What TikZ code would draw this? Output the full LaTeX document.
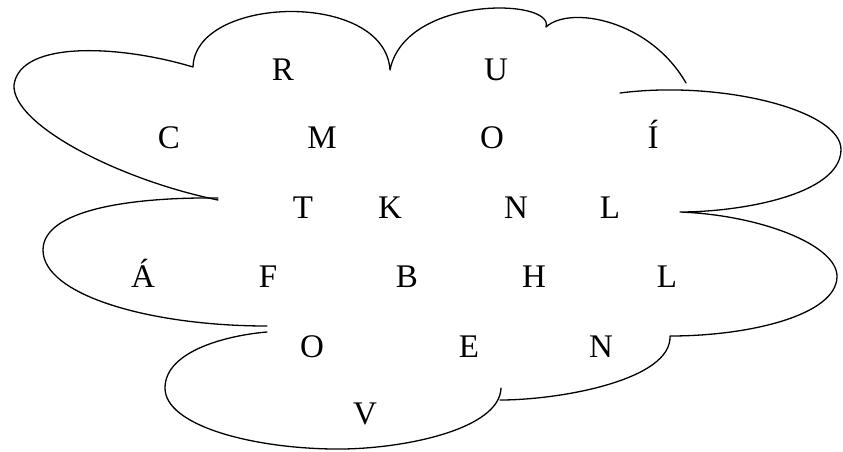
\documentclass[tikz,border=0pt]{standalone}
\usepackage{fontspec}
\setmainfont{Liberation Serif}
\begin{document}
\begin{tikzpicture}[x=1pt,y=-1pt,
  lobe/.style={draw=black,line width=1.3pt,line cap=round,line join=round},
  letter/.style={anchor=base,inner sep=0pt,font=\fontsize{33}{40}\selectfont}]
\useasboundingbox (0,0) rectangle (843,451);
% cloud lobes
\draw[lobe] (218,200) .. controls (120,180) and (12,125) .. (14,85)
  .. controls (20,40) and (120,45) .. (193,67)
  .. controls (195,-5) and (385,-10) .. (390,70)
  .. controls (405,-5) and (555,-2) .. (546,27)
  .. controls (570,5) and (650,20) .. (686,83);
\draw[lobe] (620,93) .. controls (720,80) and (842,110) .. (841,150)
  .. controls (840,195) and (740,212) .. (680,212)
  .. controls (760,215) and (838,245) .. (837,277)
  .. controls (836,315) and (750,336) .. (670,336)
  .. controls (672,380) and (560,400) .. (500,400);
\draw[lobe] (501,388) .. controls (500,430) and (400,450) .. (333,449)
  .. controls (250,448) and (165,425) .. (165,388)
  .. controls (165,350) and (230,335) .. (267,332);
\draw[lobe] (267,326) .. controls (150,326) and (43,295) .. (43,250)
  .. controls (43,210) and (130,197) .. (218,198);
% letters
\node[letter] (r1a) at (283,80) {R};
\node[letter] (r1b) at (496,80) {U};
\node[letter] (r2a) at (169,148) {C};
\node[letter] (r2b) at (322,148) {M};
\node[letter] (r2c) at (492,148) {O};
\node[letter] (r2d) at (653,148) {Í};
\node[letter] (r3a) at (303,218) {T};
\node[letter] (r3b) at (390,218) {K};
\node[letter] (r3c) at (516,218) {N};
\node[letter] (r3d) at (610,218) {L};
\node[letter] (r4a) at (143,287) {Á};
\node[letter] (r4b) at (268,287) {F};
\node[letter] (r4c) at (407,287) {B};
\node[letter] (r4d) at (534,287) {H};
\node[letter] (r4e) at (667,287) {L};
\node[letter] (r5a) at (312,357) {O};
\node[letter] (r5b) at (469,357) {E};
\node[letter] (r5c) at (601,357) {N};
\node[letter] (r6a) at (365,424) {V};
\end{tikzpicture}
\end{document}
